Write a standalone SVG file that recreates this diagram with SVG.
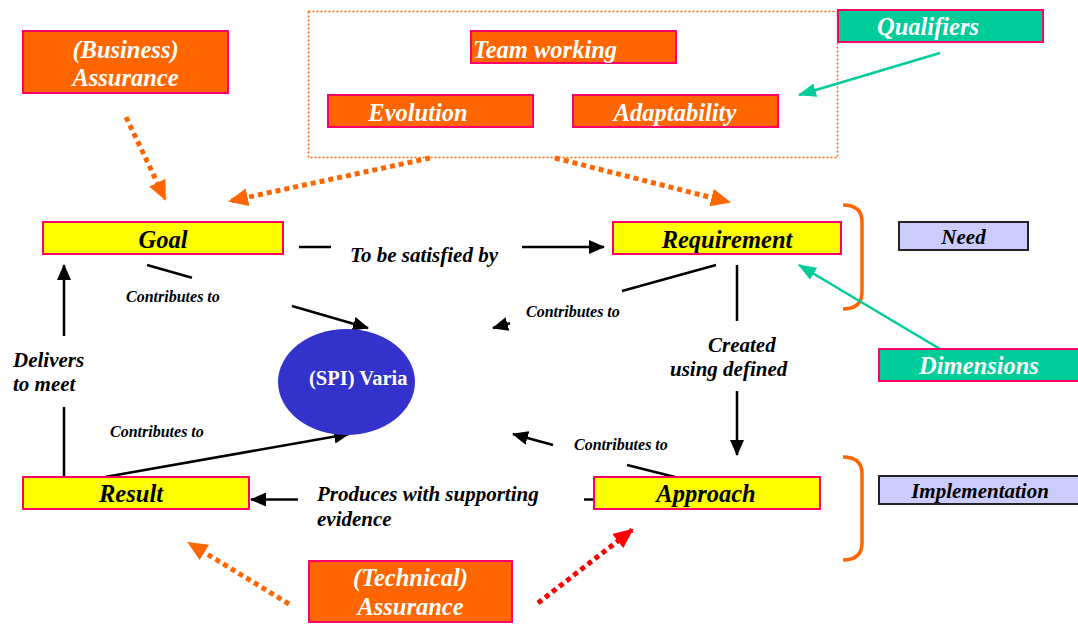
<svg xmlns="http://www.w3.org/2000/svg" width="1078" height="624" viewBox="0 0 1078 624">
  <style>
    .lbl { font-family: "Liberation Serif", "Times New Roman", serif; font-weight: bold; font-style: italic; }
    .big { font-size: 24.5px; }
    .mid { font-size: 21px; }
    .sm { font-size: 16px; }
    .w { fill: #ffffff; }
    .k { fill: #000000; }
    .orange { fill: #ff6600; stroke: #ff0066; stroke-width: 2; }
    .yellow { fill: #ffff00; stroke: #ff0066; stroke-width: 2; }
    .teal { fill: #00cc99; stroke: #ff0066; stroke-width: 2; }
    .lav { fill: #ccccff; stroke: #222222; stroke-width: 2; }
    .conn { fill: none; stroke: #000000; stroke-width: 2.5; marker-end: url(#ah); }
    .plain { fill: none; stroke: #000000; stroke-width: 2.5; }
    .tealc { fill: none; stroke: #00cc99; stroke-width: 2.5; marker-end: url(#aht); }
    .dotO { fill: none; stroke: #ff6600; stroke-width: 5; stroke-dasharray: 5 4; marker-end: url(#aho); }
    .dotR { fill: none; stroke: #ff0000; stroke-width: 5; stroke-dasharray: 5 4; marker-end: url(#ahr); }
    .brace { fill: none; stroke: #ff6600; stroke-width: 3.5; }
  </style>
  <defs>
    <marker id="ah" markerUnits="userSpaceOnUse" markerWidth="16" markerHeight="14" refX="15" refY="7" orient="auto">
      <path d="M0,0 L16,7 L0,14 z" fill="#000000"/>
    </marker>
    <marker id="aht" markerUnits="userSpaceOnUse" markerWidth="18" markerHeight="14" refX="17" refY="7" orient="auto">
      <path d="M0,0 L18,7 L0,14 z" fill="#00cc99"/>
    </marker>
    <marker id="aho" markerUnits="userSpaceOnUse" markerWidth="20" markerHeight="18" refX="18" refY="9" orient="auto">
      <path d="M0,0 L20,9 L0,18 z" fill="#ff6600"/>
    </marker>
    <marker id="ahr" markerUnits="userSpaceOnUse" markerWidth="20" markerHeight="18" refX="18" refY="9" orient="auto">
      <path d="M0,0 L20,9 L0,18 z" fill="#ff0000"/>
    </marker>
    <clipPath id="spiClip">
      <ellipse cx="346.5" cy="382" rx="68.5" ry="53"/>
    </clipPath>
  </defs>
  <rect x="0" y="0" width="1078" height="624" fill="#ffffff"/>

  <!-- qualifier container -->
  <rect id="qualifier-group" x="308.5" y="11.5" width="529" height="146" fill="none" stroke="#ff6600" stroke-width="1.5" stroke-dasharray="2 2"/>

  <!-- braces -->
  <g id="braces">
    <path class="brace" d="M843,205 Q862,205 862,222 L862,292 Q862,309 843,309"/>
    <path class="brace" d="M843,457 Q862,457 862,474 L862,543 Q862,560 843,560"/>
  </g>

  <g id="connectors">
    <!-- Goal -> Requirement -->
    <path class="conn" d="M299,247 L331,247 M522,247 L604,247"/>
    <!-- Goal contributes to SPI -->
    <path class="conn" d="M147,265 L192,277.8 M292,306 L368,328"/>
    <!-- Requirement contributes to SPI -->
    <path class="conn" d="M716,265 L622,291 M510,323.3 L493,328"/>
    <!-- Requirement -> Approach -->
    <path class="conn" d="M737,265 L737,321 M737,391 L737,455"/>
    <!-- Approach contributes to SPI -->
    <path class="conn" d="M675,477 L627,465 M553,445 L513,434"/>
    <!-- Approach -> Result -->
    <path class="plain" d="M584,499.5 L594,499.5"/>
    <path class="conn" d="M298,499.5 L251,499.5"/>
    <!-- Result -> Goal -->
    <path class="conn" d="M64,477 L64,407 M64,336 L64,265"/>
    <!-- Result contributes to SPI -->
    <path class="conn" d="M105,477 L349,434"/>
    <!-- qualifiers / dimensions -->
    <path class="tealc" d="M940,53 L799,95"/>
    <path class="tealc" d="M940,349 L799,265"/>
    <!-- assurance arrows -->
    <path class="dotO" d="M126,117 L165,199"/>
    <path class="dotO" d="M430,158 L230,201"/>
    <path class="dotO" d="M555,158 L729,202"/>
    <path class="dotO" d="M289,604 L189,543"/>
    <path class="dotR" d="M538,603 L632,530"/>
  </g>

  <g id="business-assurance">
    <rect class="orange" x="23" y="31" width="205" height="62"/>
    <text class="lbl big w" x="125.5" y="58" text-anchor="middle">(Business)</text>
    <text class="lbl big w" x="125.5" y="86" text-anchor="middle">Assurance</text>
  </g>
  <g id="team-working">
    <rect class="orange" x="471" y="31" width="205" height="32"/>
    <text class="lbl big w" x="473" y="58">Team working</text>
  </g>
  <g id="evolution">
    <rect class="orange" x="328" y="95" width="205" height="32"/>
    <text class="lbl big w" x="418" y="121" text-anchor="middle">Evolution</text>
  </g>
  <g id="adaptability">
    <rect class="orange" x="573" y="95" width="205" height="32"/>
    <text class="lbl big w" x="675" y="121" text-anchor="middle">Adaptability</text>
  </g>
  <g id="qualifiers">
    <rect class="teal" x="838" y="10" width="205" height="32"/>
    <text class="lbl big w" x="928" y="35" text-anchor="middle">Qualifiers</text>
  </g>

  <g id="goal">
    <rect class="yellow" x="43" y="222" width="240" height="32"/>
    <text class="lbl big k" x="163" y="248" text-anchor="middle">Goal</text>
  </g>
  <g id="requirement">
    <rect class="yellow" x="613" y="222" width="228" height="32"/>
    <text class="lbl big k" x="727" y="248" text-anchor="middle">Requirement</text>
  </g>
  <g id="approach">
    <rect class="yellow" x="594" y="477" width="226" height="32"/>
    <text class="lbl big k" x="706" y="502" text-anchor="middle">Approach</text>
  </g>
  <g id="result">
    <rect class="yellow" x="23" y="477" width="226" height="32"/>
    <text class="lbl big k" x="131" y="502" text-anchor="middle">Result</text>
  </g>

  <g id="spi-variables">
    <ellipse cx="346.5" cy="382" rx="68.5" ry="53" fill="#3333cc"/>
    <text x="309" y="385" clip-path="url(#spiClip)" font-family="'Liberation Serif', 'Times New Roman', serif" font-weight="bold" font-size="20.5" fill="#ffffff">(SPI) Varia</text>
  </g>

  <g id="need">
    <rect class="lav" x="899" y="222" width="129" height="28"/>
    <text class="lbl mid k" x="963.5" y="244" text-anchor="middle">Need</text>
  </g>
  <g id="implementation">
    <rect class="lav" x="879" y="476" width="200" height="28"/>
    <text class="lbl mid k" x="980" y="498" text-anchor="middle">Implementation</text>
  </g>
  <g id="dimensions">
    <rect class="teal" x="879" y="349" width="201" height="32"/>
    <text class="lbl big w" x="979" y="374" text-anchor="middle">Dimensions</text>
  </g>

  <g id="technical-assurance">
    <rect class="orange" x="309" y="561" width="203" height="61"/>
    <text class="lbl big w" x="410.5" y="586" text-anchor="middle">(Technical)</text>
    <text class="lbl big w" x="410.5" y="615" text-anchor="middle">Assurance</text>
  </g>

  <g id="labels">
    <text class="lbl mid k" x="350" y="262">To be satisfied by</text>
    <text class="lbl sm k" x="126" y="302">Contributes to</text>
    <text class="lbl sm k" x="526" y="317">Contributes to</text>
    <text class="lbl sm k" x="574" y="450">Contributes to</text>
    <text class="lbl sm k" x="110" y="437">Contributes to</text>
    <text class="lbl mid k" x="13" y="367">Delivers</text>
    <text class="lbl mid k" x="13" y="391">to meet</text>
    <text class="lbl mid k" x="708" y="352">Created</text>
    <text class="lbl mid k" x="670" y="376">using defined</text>
    <text class="lbl mid k" x="317" y="501">Produces with supporting</text>
    <text class="lbl mid k" x="317" y="526">evidence</text>
  </g>
</svg>
